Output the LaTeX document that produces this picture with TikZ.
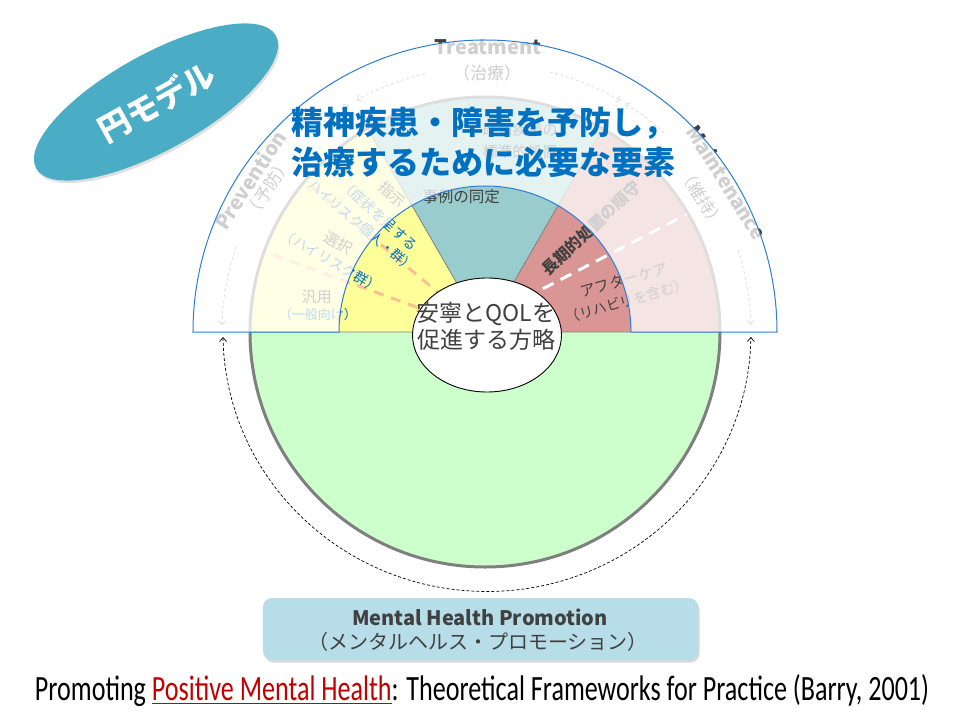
\documentclass[tikz,border=0pt]{standalone}
\usepackage{graphicx}
\usepackage{fontspec}
\setmainfont{Noto Sans CJK JP}
\newfontfamily\capfont{Carlito}
\usetikzlibrary{shapes.geometric,arrows.meta,shadows}
\definecolor{cdark}{HTML}{404040}
\definecolor{cblue}{HTML}{0070C0}
\definecolor{cyel}{HTML}{FFFF99}
\definecolor{cteal}{HTML}{99CCCC}
\definecolor{cred}{HTML}{D99694}
\definecolor{cgreen}{HTML}{CCFFCC}
\definecolor{cring}{HTML}{7F7F7F}
\definecolor{corange}{HTML}{FAC090}
\definecolor{coval}{HTML}{4BACC6}
\definecolor{cbox}{HTML}{B7DDE8}
\definecolor{cedge}{HTML}{2E7DD2}
\definecolor{ccap}{HTML}{C00000}
\newcommand{\myfs}[2]{\fontsize{#1}{#2}\selectfont}
\begin{document}
\begin{tikzpicture}[x=1pt,y=1pt,
  lbl/.style={inner sep=0pt, text=cdark},
  bl/.style={inner sep=0pt, text=cblue},
  garrow/.style={draw=cring, line width=0.8pt, dash pattern=on 3pt off 2.5pt, -{Straight Barb[length=4pt,width=7pt]}},
  odash/.style={corange, line width=3pt, dash pattern=on 10pt off 8pt},
]
\useasboundingbox (-485,-388) rectangle (475,332);
% sectors
\fill[cred] (0,0) -- (0:235) arc[start angle=0,end angle=60,radius=235] -- cycle;
\fill[cteal] (0,0) -- (60:235) arc[start angle=60,end angle=120,radius=235] -- cycle;
\fill[cyel] (0,0) -- (120:235) arc[start angle=120,end angle=180,radius=235] -- cycle;
\fill[cgreen] (180:235) arc[start angle=180,end angle=360,radius=235] -- cycle;
\begin{scope}
\clip (0,0) -- (120:235) arc[start angle=120,end angle=180,radius=235] -- cycle;
\draw[odash] (0,0) -- (140:240);
\draw[odash] (0,0) -- (160:240);
\end{scope}
\begin{scope}
\clip (0,0) -- (0:235) arc[start angle=0,end angle=60,radius=235] -- cycle;
\draw[white, line width=3pt, dash pattern=on 12pt off 8pt] (40,34) -- (210,122);
\end{scope}
\draw[cring, line width=0.8pt] (0,0) -- (60:235) (0,0) -- (120:235) (-235,0) -- (235,0);
\draw[cring, line width=3pt] (0,0) circle[radius=235];
% sector texts
\node[lbl, rotate=-42, font=\myfs{15}{18}] (shiji) at (-93,138) {指示};
\node[bl, rotate=-42, font=\myfs{14}{17}] (shiji2) at (-106,117) {（症状を呈する};
\node[bl, rotate=-40, font=\myfs{13.5}{16}] (shiji3) at (-123,106) {ハイリスク個人・群）};
\node[lbl, rotate=-30, font=\myfs{15}{18}] (sentaku) at (-147,89) {選択};
\node[bl, rotate=-30, font=\myfs{14}{17}] (sentaku2) at (-154,71) {（ハイリスク群）};
\node[lbl, font=\myfs{15}{18}] (hanyo) at (-168,35) {汎用};
\node[bl, font=\myfs{13}{16}] (hanyo2) at (-167,17) {（一般向け）};
\node[lbl, align=center, font=\myfs{15}{22}] (kichi) at (35,191) {既知疾患の\\標準的処置};
\node[lbl, font=\myfs{15.5}{18}] (jirei) at (-24,135) {事例の同定};
\node[lbl, rotate=43, font=\bfseries\myfs{16}{19}] (choki) at (106,104) {長期的処置の順守};
\node[lbl, rotate=16, font=\myfs{15}{18}] (after) at (139,52) {アフターケア};
\node[lbl, rotate=16, font=\myfs{14}{17}] (reha) at (142,31) {（リハビリを含む）};
% ring labels
\node[lbl, font=\bfseries\myfs{20}{24}] (trt) at (3,285) {Treatment};
\node[lbl, font=\myfs{17}{20}] (trtj) at (2,259) {（治療）};
\node[lbl, rotate=57, font=\bfseries\myfs{20}{24}] (prv) at (-235,152) {Prevention};
\node[lbl, rotate=57, font=\myfs{17}{20}] (prvj) at (-217,144) {（予防）};
\node[lbl, rotate=-58, font=\bfseries\myfs{20}{24}] (mnt) at (242,150) {Maintenance};
\node[lbl, rotate=-58, font=\myfs{17}{20}] (mntj) at (217,134) {（維持）};
\draw[garrow] (103:265) arc[start angle=103,end angle=119,radius=265];
\draw[garrow] (130:265) arc[start angle=130,end angle=121,radius=265];
\draw[garrow] (76:268) arc[start angle=76,end angle=59.5,radius=268];
\draw[garrow] (48:268) arc[start angle=48,end angle=58.5,radius=268];
\draw[garrow] (161:263) arc[start angle=161,end angle=178.5,radius=263];
\draw[garrow] (18:266) arc[start angle=18,end angle=1.5,radius=266];
% translucent half annulus
\path[fill=white, fill opacity=0.75, draw=cedge, line width=1pt] (146,0) -- (292,0) arc[start angle=0,end angle=180,radius=292] -- (-146,0) arc[start angle=180,end angle=0,radius=146] -- cycle;
% title
\node[anchor=west, inner sep=0pt, text=cblue, font=\bfseries\myfs{32}{38}] (ti1) at (-194,209) {精神疾患・障害を予防し，};
\node[anchor=west, inner sep=0pt, text=cblue, font=\bfseries\myfs{32}{38}] (ti2) at (-194,170) {治療するために必要な要素};
% core
\node[ellipse, draw=black, line width=0.9pt, fill=white, minimum width=149pt, minimum height=114pt, inner sep=0pt] (core) at (2,-3) {};
\node[lbl, align=center, font=\myfs{23}{27}] (coretxt) at (1,6) {安寧とQOLを\\促進する方略};
% black dashed arc
\draw[black, line width=0.7pt, dash pattern=on 3pt off 2pt, {Straight Barb[length=4pt,width=7pt]}-{Straight Barb[length=4pt,width=7pt]}] (-262,-5) arc[start angle=181,end angle=359,x radius=264,y radius=259];
% bottom box
\node[fill=cbox, rounded corners=9pt, minimum width=435pt, minimum height=62pt, inner sep=0pt, drop shadow={shadow xshift=1.5pt,shadow yshift=-2.5pt,opacity=0.3}] (mhp) at (-4.5,-297) {};
\node[lbl, font=\bfseries\myfs{20}{24}] (mhp1) at (-5,-285) {Mental Health Promotion};
\node[lbl, font=\myfs{20}{24}] (mhp2) at (-7,-310) {（メンタルヘルス・プロモーション）};
% caption
\node[inner sep=0pt] (cap) at (-3,-359) {\resizebox{894pt}{26pt}{\capfont\myfs{24}{28}Promoting \textcolor{ccap}{\underline{Positive Mental Health}}: Theoretical Frameworks for Practice (Barry, 2001)}};
% model oval
\node[ellipse, fill=coval, minimum width=274pt, minimum height=96pt, rotate=29, inner sep=0pt, text=white, font=\bfseries\myfs{32}{36}, drop shadow={shadow xshift=1.5pt,shadow yshift=-2.5pt,opacity=0.25}] (model) at (-329,230) {円モデル};
\end{tikzpicture}
\end{document}
